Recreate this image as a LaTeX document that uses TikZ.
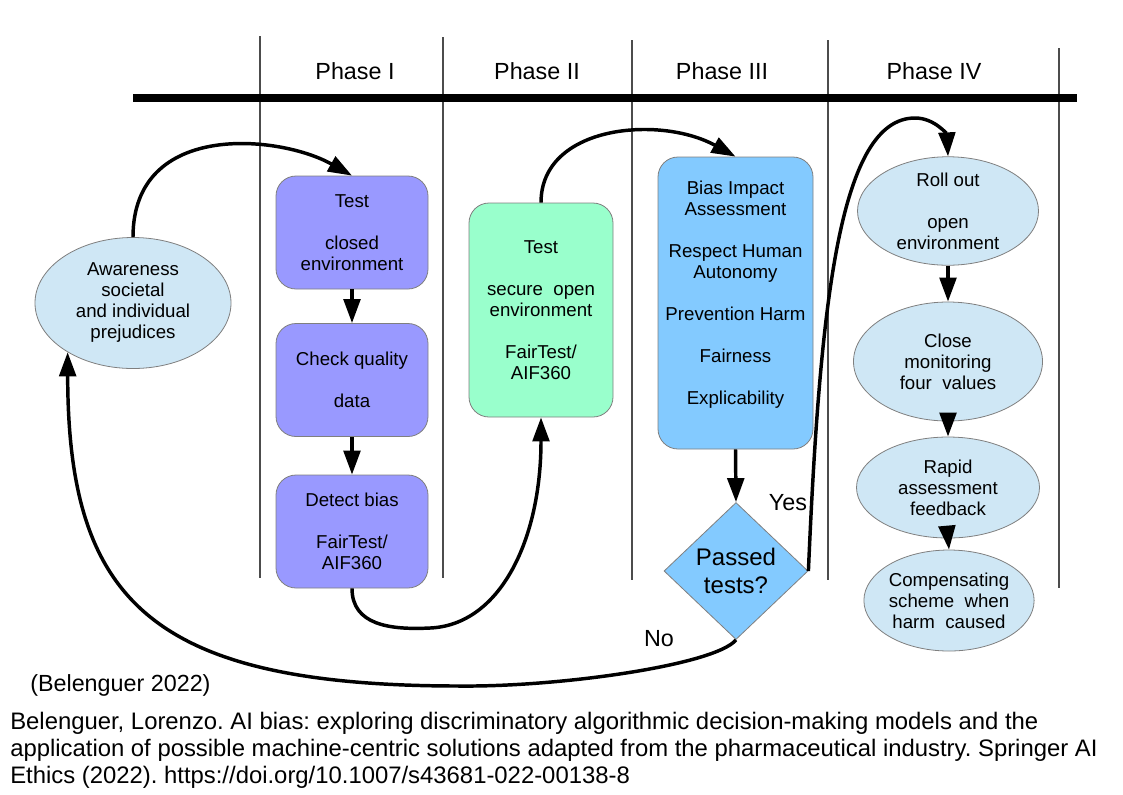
\documentclass[tikz,border=0pt]{standalone}
\usepackage{fontspec}
\setmainfont{Liberation Sans}
\usetikzlibrary{arrows.meta,shapes.geometric}
\definecolor{purp}{HTML}{9999FF}
\definecolor{mint}{HTML}{99FFCC}
\definecolor{skyb}{HTML}{83CAFF}
\definecolor{paleb}{HTML}{CFE7F5}
\definecolor{bordergray}{HTML}{7F7F7F}
\frenchspacing
\begin{document}
\begin{tikzpicture}[x=0.75pt,y=-0.75pt,
  ntext/.style={font=\fontsize{14}{15.75}\selectfont, align=center, inner sep=0pt},
  rbox/.style={ntext, draw=bordergray, line width=0.6pt, rounded corners=15pt},
  oval/.style={ntext, ellipse, draw=bordergray, fill=paleb, line width=0.6pt},
  conn/.style={line width=2.6pt, -{Triangle[length=18pt,width=12.5pt]}},
  sep/.style={line width=0.8pt, black!70},
  phase/.style={font=\fontsize{17.5}{21}\selectfont, inner sep=0pt},
  lbl/.style={font=\fontsize{17.5}{21}\selectfont, inner sep=0pt},
  foot/.style={font=\fontsize{17.9}{20.25}\selectfont, inner sep=0pt, anchor=base west}
]
\useasboundingbox (0,0) rectangle (1123,794);

% separators
\draw[sep] (260,36) -- (260,578);
\draw[sep] (443,37) -- (443,578);
\draw[sep] (632,40) -- (632,580);
\draw[sep] (828,40) -- (828,580);
\draw[sep] (1059,48) -- (1059,588);
\draw[line width=6pt] (133,98) -- (1077,98);

% phase labels
\node[phase] (ph1) at (355,71) {Phase I};
\node[phase] (ph2) at (537,71) {Phase II};
\node[phase] (ph3) at (722,71) {Phase III};
\node[phase] (ph4) at (934,71) {Phase IV};

% nodes
\node[oval, minimum width=147pt, minimum height=98.25pt] (aw) at (133,303)
  {Awareness\\societal\\and individual\\prejudices};

\node[rbox, fill=purp, minimum width=114pt, minimum height=84.75pt] (b1) at (352,232.5)
  {Test\\[15.75pt]closed\\environment};
\node[rbox, fill=purp, minimum width=114pt, minimum height=84.75pt] (b2) at (352,380)
  {Check quality\\[15.75pt]data};
\node[rbox, fill=purp, minimum width=114pt, minimum height=84.75pt] (b3) at (352,531.5)
  {Detect bias\\[15.75pt]FairTest/\\AIF360};

\node[rbox, fill=mint, minimum width=108pt, minimum height=160.5pt] (g) at (541,310)
  {Test\\[15.75pt]secure\ \ open\\environment\\[15.75pt]FairTest/\\AIF360};

\node[rbox, fill=skyb, minimum width=116.25pt, minimum height=219pt] (p3) at (735.5,303)
  {Bias Impact\\Assessment\\[15.75pt]Respect Human\\Autonomy\\[15.75pt]Prevention Harm\\[15.75pt]Fairness\\[15.75pt]Explicability\\\mbox{}};

\node[diamond, draw=bordergray, line width=0.6pt, fill=skyb, inner sep=0pt, align=center,
      minimum width=108pt, minimum height=102.75pt,
      font=\fontsize{18}{21}\selectfont] (d) at (736,571) {Passed\\tests?};

\node[oval, minimum width=135.75pt, minimum height=78pt] (e1) at (948,211)
  {\raisebox{-3pt}{Roll out}\\[15.75pt]\raisebox{-3pt}{open}\\\raisebox{-3pt}{environment}};
\node[oval, minimum width=141.75pt, minimum height=89.25pt] (e2) at (948,361.5)
  {Close\\monitoring\\four\ \ values};
\node[oval, minimum width=137.25pt, minimum height=75.75pt] (e3) at (948,487.5)
  {Rapid\\assessment\\feedback};
\node[oval, minimum width=127.5pt, minimum height=75.75pt] (e4) at (949,600.5)
  {Compensating\\scheme\ \ when\\harm\ \ caused};

\node[lbl] (yes) at (788,503) {Yes};
\node[lbl] (no) at (659,639) {No};

% straight arrows
\draw[conn] (b1.south) -- (b2.north);
\draw[conn] (b2.south) -- (b3.north);
\draw[conn] (p3.south) -- (d.north);
\draw[conn] (e1.south) -- (e2.north);
\draw[conn] (e2.south) -- (e3.north);
\draw[conn] (e3.south) -- (e4.north);

% curved connectors
\draw[conn] (aw.north) .. controls (133,120) and (280,135) .. (b1.north);
\draw[conn] (b3.south) .. controls (352,625) and (390,630) .. (430,628)
                       .. controls (500,625) and (541,540) .. (g.south);
\draw[conn] (g.north) .. controls (541,125) and (660,115) .. (p3.north);
\draw[conn] (d.east) .. controls (820,300) and (840,118) .. (915,118)
                     .. controls (935,118) and (947,135) .. (e1.north);
\draw[conn] (d.south) .. controls (715,665) and (560,687) .. (460,686)
                      .. controls (150,686) and (68,600) .. (aw.217);

% citation
\node[lbl, anchor=west] (cite) at (30,685) {(Belenguer 2022)};
\node[foot] (fn1) at (10,729.5) {Belenguer, Lorenzo. AI bias: exploring discriminatory algorithmic decision-making models and the};
\node[foot] (fn2) at (10,756.5) {application of possible machine-centric solutions adapted from the pharmaceutical industry. Springer AI};
\node[foot] (fn3) at (10,783.5) {Ethics (2022). https://doi.org/10.1007/s43681-022-00138-8};
\end{tikzpicture}
\end{document}
